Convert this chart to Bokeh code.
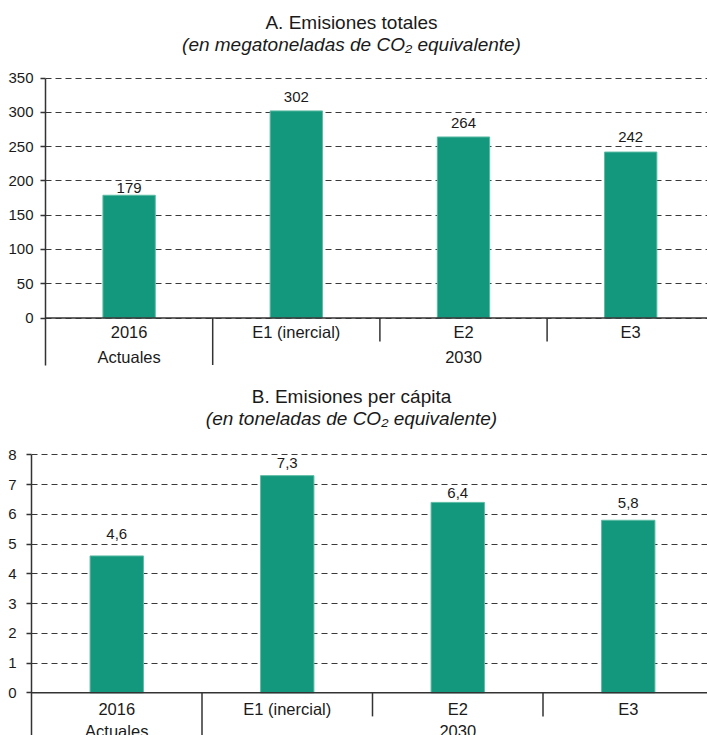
from bokeh.plotting import figure
from bokeh.models import Range1d, FixedTicker, Span
from bokeh.layouts import column
from bokeh.embed import file_html
from bokeh.resources import INLINE
from bokeh.core.properties import value

# ---------------- data ----------------
categories = ["2016", "E1 (inercial)", "E2", "E3"]
groups = ["Actuales", "2030"]
group_first_cat = [0, 1]          # index of first category in each group
group_last_cat = [0, 3]           # index of last category in each group
totales = [179, 302, 264, 242]
per_capita = [4.6, 7.3, 6.4, 5.8]
ticks_a = [0, 50, 100, 150, 200, 250, 300, 350]
ticks_b = [0, 1, 2, 3, 4, 5, 6, 7, 8]
title_a = "A. Emisiones totales"
subtitle_a = "(en megatoneladas de CO\u2082 equivalente)"
title_b = "B. Emisiones per cápita"
subtitle_b = "(en toneladas de CO\u2082 equivalente)"
labels_a = [str(v) for v in totales]
labels_b = [f"{v:.1f}".replace(".", ",") for v in per_capita]

# ---------------- style ----------------
FONT = "Liberation Sans"
BAR = "#13977d"
BAR_EDGE = "#5cbca4"
DARK = "#333333"
TXT = "#1a1a1a"


def make_chart(vals, labels, ticks, title, subtitle, *, width, height, left,
               ppu, zero_px, axis_bottom_px, cat_px, label_off, tick_standoff,
               title_cx_px, cat_lab_px, grp_lab_px):
    y_end = zero_px / ppu
    y_start = -(height - zero_px) / ppu
    x_end = (width - left) / cat_px
    y_low = -(axis_bottom_px - zero_px) / ppu

    p = figure(width=width, height=height, output_backend="svg", toolbar_location=None,
               x_range=Range1d(0, x_end), y_range=Range1d(y_start, y_end),
               x_axis_location=None, min_border=0)
    p.frame_align = False
    p.min_border_top = 0
    p.min_border_left = left
    p.min_border_bottom = 0
    p.min_border_right = 0
    p.outline_line_color = None
    p.background_fill_color = "white"
    p.border_fill_color = "white"

    # grid
    p.xgrid.visible = False
    p.ygrid.ticker = FixedTicker(ticks=ticks)
    p.ygrid.grid_line_color = "#3a3a3a"
    p.ygrid.grid_line_dash = "6 4"
    p.ygrid.grid_line_width = 1

    # y axis
    ax = p.yaxis[0]
    ax.ticker = FixedTicker(ticks=ticks, minor_ticks=[])
    ax.bounds = (y_low, ticks[-1])
    ax.axis_line_color = DARK
    ax.axis_line_width = 1.5
    ax.major_tick_line_color = DARK
    ax.major_tick_line_width = 1.5
    ax.major_tick_out = 5
    ax.major_tick_in = 0
    ax.minor_tick_line_color = None
    ax.major_label_text_font = FONT
    ax.major_label_text_font_size = "15px"
    ax.major_label_text_color = TXT
    ax.major_label_standoff = tick_standoff

    # zero line
    p.add_layout(Span(location=0, dimension="width", line_color=DARK, line_width=1.5))

    n = len(vals)
    centers = [i + 0.5 for i in range(n)]
    p.vbar(x=centers, top=vals, bottom=0, width=0.313, fill_color=BAR,
           line_color=BAR_EDGE, line_width=1)

    # value labels
    ly = [v + off / ppu for v, off in zip(vals, label_off)]
    p.text(x=centers, y=ly, text=labels, text_align="center", text_baseline="middle",
           text_font=value(FONT), text_font_size="15px", text_color=TXT)

    # category separators
    short = -23.6 / ppu
    group_bounds = set(group_first_cat)
    xs0, ys0, xs1, ys1 = [], [], [], []
    for b in range(1, n):
        xs0.append(b); xs1.append(b); ys0.append(0)
        ys1.append(y_low if b in group_bounds else short)
    p.segment(x0=xs0, y0=ys0, x1=xs1, y1=ys1, line_color=DARK, line_width=1.5)

    # category labels
    p.text(x=centers, y=[-cat_lab_px / ppu] * n, text=categories, text_align="center",
           text_baseline="middle", text_font=value(FONT), text_font_size="16.5px",
           text_color=TXT)
    gx = [(f + l + 1) / 2 for f, l in zip(group_first_cat, group_last_cat)]
    p.text(x=gx, y=[-grp_lab_px / ppu] * len(groups), text=groups, text_align="center",
           text_baseline="middle", text_font=value(FONT), text_font_size="16.5px",
           text_color=TXT)

    # titles
    tx = (title_cx_px - left) / cat_px
    p.text(x=[tx], y=[296 / ppu], text=[title], text_align="center",
           text_baseline="middle", text_font=value(FONT), text_font_size="19px",
           text_color=TXT)
    p.text(x=[tx], y=[274 / ppu], text=[subtitle], text_align="center",
           text_baseline="middle", text_font=value(FONT), text_font_size="19px",
           text_font_style="italic", text_color=TXT)
    return p


pa = make_chart(totales, labels_a, ticks_a, title_a, subtitle_a,
                width=707, height=372, left=45,
                ppu=240 / 350, zero_px=317.5, axis_bottom_px=364.5, cat_px=167.2,
                label_off=[7.5, 14, 14, 15], tick_standoff=7, title_cx_px=351,
                cat_lab_px=14.2, grp_lab_px=39.2)
pb = make_chart(per_capita, labels_b, ticks_b, title_b, subtitle_b,
                width=707, height=363, left=31,
                ppu=29.75, zero_px=692.3 - 372, axis_bottom_px=363, cat_px=170.5,
                label_off=[21.5, 12.7, 9, 17], tick_standoff=10, title_cx_px=351,
                cat_lab_px=16, grp_lab_px=37.7)

layout = column(pa, pb, spacing=0)
open("out.html", "w").write(file_html(layout, INLINE))
